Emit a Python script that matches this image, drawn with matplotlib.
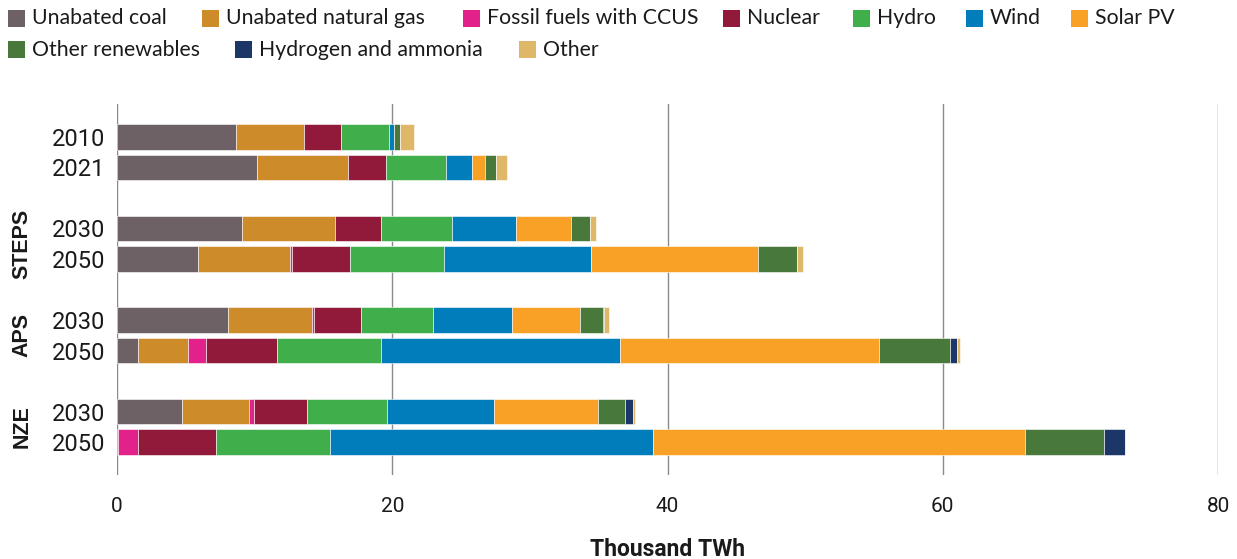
import matplotlib
matplotlib.use("Agg")
import matplotlib.pyplot as plt
from matplotlib.patches import Rectangle
from matplotlib.transforms import blended_transform_factory
import numpy as np

# ---------------- data (thousand TWh) ----------------
categories = ["2010", "2021", "STEPS 2030", "STEPS 2050", "APS 2030", "APS 2050", "NZE 2030", "NZE 2050"]
tick_labels = ["2010", "2021", "2030", "2050", "2030", "2050", "2030", "2050"]
groups = ["STEPS", "APS", "NZE"]

unabated_coal = [8.68, 10.20, 9.07, 5.92, 8.07, 1.54, 4.69, 0.05]
unabated_gas = [4.90, 6.56, 6.79, 6.64, 6.13, 3.63, 4.93, 0.02]
fossil_ccus = [0.00, 0.00, 0.00, 0.12, 0.10, 1.32, 0.34, 1.42]
nuclear = [2.67, 2.75, 3.34, 4.25, 3.43, 5.12, 3.84, 5.72]
hydro = [3.52, 4.36, 5.13, 6.83, 5.22, 7.57, 5.83, 8.24]
wind = [0.34, 1.89, 4.63, 10.70, 5.76, 17.37, 7.73, 23.53]
solar_pv = [0.03, 1.00, 4.02, 12.11, 4.90, 18.82, 7.61, 27.02]
other_renewables = [0.43, 0.80, 1.37, 2.84, 1.72, 5.13, 1.95, 5.72]
hydrogen_ammonia = [0.00, 0.00, 0.03, 0.00, 0.08, 0.54, 0.57, 1.49]
other = [1.00, 0.78, 0.46, 0.46, 0.37, 0.23, 0.17, 0.06]

series_names = ["Unabated coal", "Unabated natural gas", "Fossil fuels with CCUS", "Nuclear",
                "Hydro", "Wind", "Solar PV", "Other renewables", "Hydrogen and ammonia", "Other"]
series_values = [unabated_coal, unabated_gas, fossil_ccus, nuclear, hydro, wind, solar_pv,
                 other_renewables, hydrogen_ammonia, other]
colors = ["#6d6165", "#ce8b2a", "#e3218b", "#911a3a", "#40ae4a", "#027dbc", "#f9a027",
          "#49783b", "#1c3667", "#dfb768"]

x_ticks = [0, 20, 40, 60, 80]

# ---------------- figure ----------------
W, H = 1237, 559
fig = plt.figure(figsize=(W / 100, H / 100), dpi=100)
ax = fig.add_axes([117 / W, 1 - 475 / H, (1218 - 117) / W, (475 - 104) / H])

positions = np.array([0, 1, 3, 4, 6, 7, 9, 10], dtype=float)
left = np.zeros(len(categories))
for name, vals, col in zip(series_names, series_values, colors):
    v = np.array(vals)
    ax.barh(positions, v, left=left, height=0.84, color=col, edgecolor="white",
            linewidth=0.4, zorder=3, label=name)
    left += v

ax.set_xlim(0, 80)
ax.set_ylim(11.08, -1.08)
ax.set_xticks(x_ticks)
ax.set_xticklabels([str(t) for t in x_ticks], fontsize=15, family=["Roboto", "DejaVu Sans"],
                   color="#1a1a1a")
ax.set_yticks(positions)
ax.set_yticklabels(tick_labels, fontsize=17, family=["Roboto", "DejaVu Sans"], color="#1a1a1a")
ax.tick_params(axis="both", length=0)
ax.tick_params(axis="x", pad=16)
ax.tick_params(axis="y", pad=8.5)
for s in ax.spines.values():
    s.set_visible(False)
ax.grid(axis="x", color="#8a8a8a", linewidth=1.0, zorder=0)
ax.grid(axis="y", visible=False)

ax.set_xlabel("Thousand TWh", fontsize=16.5, fontweight="bold",
              family=["Roboto", "DejaVu Sans"], labelpad=16, color="#1a1a1a")

# group labels
trans = blended_transform_factory(fig.transFigure, ax.transData)
group_pos = [(positions[2] + positions[3]) / 2, (positions[4] + positions[5]) / 2,
             (positions[6] + positions[7]) / 2]
for g, yp in zip(groups, group_pos):
    ax.text(22 / W, yp, g, transform=trans, rotation=90, ha="center", va="center",
            fontsize=15.5, fontweight="bold", family=["Liberation Sans", "DejaVu Sans"],
            color="#1a1a1a")

# legend (manual flow layout)
legend_rows = [
    [(0, 8, 32), (1, 202, 226), (2, 463, 487), (3, 723, 747), (4, 853, 877), (5, 966, 990), (6, 1071, 1095)],
    [(7, 8, 32), (8, 235, 259), (9, 519, 543)],
]
row_y = [18.5, 49.5]
sq = 17
for row, yc in zip(legend_rows, row_y):
    for idx, xs, xt in row:
        fig.add_artist(Rectangle((xs / W, 1 - (yc + sq / 2) / H), sq / W, sq / H,
                                 transform=fig.transFigure, facecolor=colors[idx],
                                 edgecolor="none"))
        fig.text(xt / W, 1 - yc / H, series_names[idx], ha="left", va="center",
                 fontsize=15.3, family=["Lato", "DejaVu Sans"], color="#1a1a1a")

fig.savefig("out.png", dpi=100)
